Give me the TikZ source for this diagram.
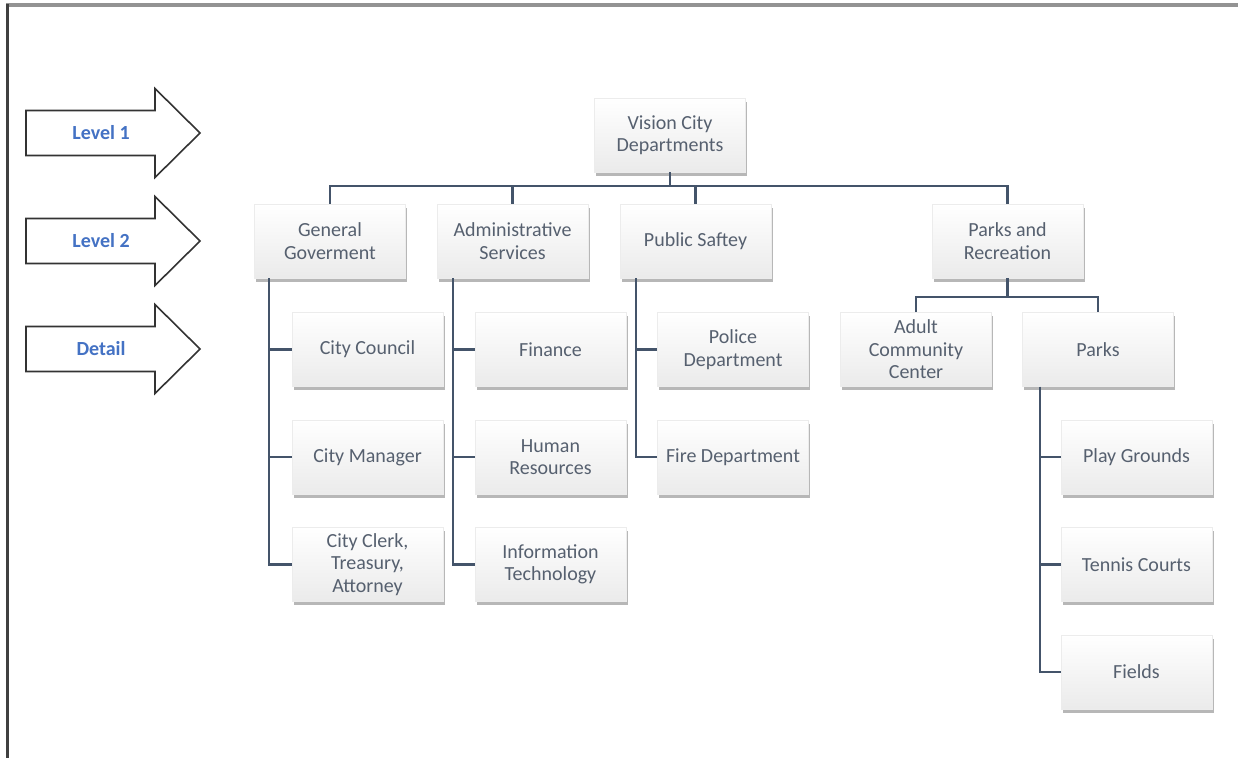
\documentclass[tikz,border=0pt]{standalone}
\usepackage{fontspec}
\setmainfont{Carlito}
\usetikzlibrary{shadows}
\definecolor{boxtext}{HTML}{56606F}
\definecolor{lvl}{HTML}{4472C4}
\definecolor{conn}{HTML}{44546A}
\begin{document}
\begin{tikzpicture}[x=1pt,y=-1pt,
  orgbox/.style={rectangle, minimum width=151pt, minimum height=74pt, inner sep=1pt,
    align=center, text=boxtext, font=\fontsize{20}{22.5}\selectfont,
    draw=gray!15, line width=0.6pt, top color=white, bottom color=gray!16,
    drop shadow={shadow xshift=1.5pt, shadow yshift=-3.5pt, opacity=0.4, fill=black!70}},
  conline/.style={draw=conn, line width=2.2pt},
  lvlarrow/.style={draw=black!80, line width=1.6pt, fill=white, line join=miter},
  lvltext/.style={text=lvl, font=\bfseries\fontsize{20}{22}\selectfont}]
\useasboundingbox (0,0) rectangle (1238,758);
% frame
\draw[gray!85, line width=3.5pt] (6,5) -- (1238,5);
\draw[black!75, line width=3pt] (7,4) -- (7,758);
% level arrows
\foreach \yy/\lab/\nm in {133/Level 1/la, 241/Level 2/lb, 349/Detail/lc}{
  \draw[lvlarrow] (26,\yy-22.5) -- (155,\yy-22.5) -- (155,\yy-44.5) -- (200,\yy) -- (155,\yy+44.5) -- (155,\yy+22.5) -- (26,\yy+22.5) -- cycle;
  \node[lvltext] (\nm) at (101,\yy) {\lab};
}
% boxes
\node[orgbox] (top) at (670,135) {Vision City\\Departments};
\node[orgbox] (GG) at (330,241) {General\\Goverment};
\node[orgbox] (AS) at (512.5,241) {Administrative\\Services};
\node[orgbox] (PS) at (695.5,241) {Public Saftey};
\node[orgbox] (PR) at (1007.5,241) {Parks and\\Recreation};
\node[orgbox] (ACC) at (916,349.5) {Adult\\Community\\Center};
\node[orgbox] (PK) at (1098,349.5) {Parks};
\node[orgbox] (CC) at (367.5,349.5) {City Council};
\node[orgbox] (CM) at (367.5,457) {City Manager};
\node[orgbox] (CK) at (367.5,564.5) {City Clerk,\\Treasury,\\Attorney};
\node[orgbox] (FI) at (550.5,349.5) {Finance};
\node[orgbox] (HR) at (550.5,457) {Human\\Resources};
\node[orgbox] (IT) at (550.5,564.5) {Information\\Technology};
\node[orgbox] (PD) at (733,349.5) {Police\\Department};
\node[orgbox] (FD) at (733,457) {Fire Department};
\node[orgbox] (PG) at (1136.5,457) {Play Grounds};
\node[orgbox] (TC) at (1136.5,564.5) {Tennis Courts};
\node[orgbox] (FL) at (1136.5,672) {Fields};
% connectors
\draw[conline] (top.south) -- ++(0,15);
\draw[conline] (GG.north) -- ++(0,-18) -| (PR.north);
\draw[conline] (AS.north) -- ++(0,-18);
\draw[conline] (PS.north) -- ++(0,-18);
\draw[conline] (PR.south) -- ++(0,19);
\draw[conline] (ACC.north) -- ++(0,-15) -| (PK.north);
\foreach \c in {CC,CM,CK}{\draw[conline] ([xshift=15pt]GG.south west) |- (\c.west);}
\foreach \c in {FI,HR,IT}{\draw[conline] ([xshift=16pt]AS.south west) |- (\c.west);}
\foreach \c in {PD,FD}{\draw[conline] ([xshift=16pt]PS.south west) |- (\c.west);}
\foreach \c in {PG,TC,FL}{\draw[conline] ([xshift=18pt]PK.south west) |- (\c.west);}
\end{tikzpicture}
\end{document}
